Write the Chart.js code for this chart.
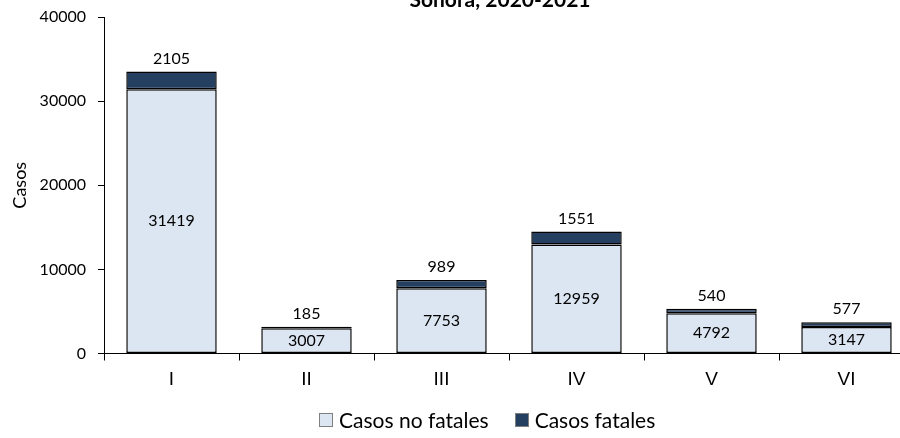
<!DOCTYPE html>
<html lang="es">
<head>
  <meta charset="UTF-8">
  <title>Casos por región - Sonora, 2020-2021</title>
  <script src="https://cdn.jsdelivr.net/npm/chart.js"></script>
  <style>
    html, body {
      margin: 0;
      padding: 0;
      background: #ffffff;
      overflow: hidden;
      width: 900px;
      height: 438px;
    }
    #wrap {
      position: relative;
      width: 915px;
      height: 438px;
    }
    #leyenda {
      position: absolute;
      top: 407px;
      left: 319px;
      display: flex;
      align-items: center;
      font-family: Lato, sans-serif;
      font-size: 21px;
      line-height: 26px;
      color: #000;
    }
    #leyenda span.item {
      display: flex;
      align-items: center;
      margin-right: 26px;
    }
    #leyenda span.caja {
      display: inline-block;
      width: 12px;
      height: 12px;
      border: 1px solid #7f7f7f;
      margin-right: 6px;
    }
  </style>
</head>
<body>
  <div id="wrap">
    <canvas id="graphique" width="915" height="438"></canvas>
    <div id="leyenda"></div>
  </div>

  <script>
    // Données
    const regiones = ["I", "II", "III", "IV", "V", "VI"];
    const noFatales = [31419, 3007, 7753, 12959, 4792, 3147];
    const fatales = [2105, 185, 989, 1551, 540, 577];
    const yTicks = [0, 10000, 20000, 30000, 40000];
    const titulo = "Sonora, 2020-2021";

    const colorClaro = "#dce6f2";
    const colorOscuro = "#243f60";

    // Étiquettes des valeurs
    const etiquettes = {
      id: "etiquettes",
      afterDatasetsDraw(chart) {
        const ctx = chart.ctx;
        ctx.save();
        ctx.font = "16px Lato, sans-serif";
        ctx.fillStyle = "#000";
        ctx.textAlign = "center";
        ctx.textBaseline = "middle";
        const m0 = chart.getDatasetMeta(0);
        const m1 = chart.getDatasetMeta(1);
        m0.data.forEach((bar, i) => {
          ctx.fillText(String(noFatales[i]), bar.x, (bar.y + bar.base) / 2);
        });
        m1.data.forEach((bar, i) => {
          ctx.fillText(String(fatales[i]), bar.x, bar.y - 13);
        });
        ctx.restore();
      }
    };

    // Titre (coupé en haut)
    const tituloPlugin = {
      id: "tituloPlugin",
      afterDraw(chart) {
        const ctx = chart.ctx;
        const a = chart.chartArea;
        ctx.save();
        ctx.font = "bold 21px Lato, sans-serif";
        ctx.fillStyle = "#000";
        ctx.textAlign = "center";
        ctx.textBaseline = "alphabetic";
        ctx.fillText(titulo, (a.left + a.right) / 2 - 9, 7);
        ctx.restore();
      }
    };

    const ctx = document.getElementById("graphique").getContext("2d");
    const chart = new Chart(ctx, {
      type: "bar",
      data: {
        labels: regiones,
        datasets: [
          {
            label: "Casos no fatales",
            data: noFatales,
            backgroundColor: colorClaro,
            borderColor: "#000",
            borderWidth: 1.5,
            borderSkipped: false,
            categoryPercentage: 1,
            barPercentage: 0.67
          },
          {
            label: "Casos fatales",
            data: fatales,
            backgroundColor: colorOscuro,
            borderColor: "#000",
            borderWidth: 1.5,
            borderSkipped: false,
            categoryPercentage: 1,
            barPercentage: 0.67
          }
        ]
      },
      options: {
        responsive: false,
        animation: false,
        layout: { padding: { top: 17, right: 1, bottom: 36.5, left: 0 } },
        plugins: {
          legend: { display: false },
          tooltip: { enabled: false }
        },
        scales: {
          x: {
            stacked: true,
            border: { color: "#000", width: 1 },
            grid: { drawOnChartArea: false, tickLength: 7, color: "#000", offset: true },
            ticks: { color: "#000", font: { family: "Liberation Sans", size: 19 }, padding: 8 },
            afterFit(scale) { scale.height = 48; }
          },
          y: {
            stacked: true,
            min: 0,
            max: 40000,
            border: { color: "#000", width: 1 },
            grid: { drawOnChartArea: false, tickLength: 6, color: "#000" },
            afterBuildTicks(scale) { scale.ticks = yTicks.map(v => ({ value: v })); },
            ticks: {
              color: "#000",
              font: { family: "Lato", size: 16, lineHeight: 0.5 },
              padding: 12,
              callback: v => String(v)
            },
            title: {
              display: true,
              text: "Casos",
              color: "#000",
              font: { family: "Lato", size: 18 },
              padding: { top: 9, bottom: 0 }
            },
            afterFit(scale) { scale.width = 104; }
          }
        }
      },
      plugins: [etiquettes, tituloPlugin]
    });

    // Légende HTML
    const leyenda = document.getElementById("leyenda");
    chart.data.datasets.forEach(ds => {
      const item = document.createElement("span");
      item.className = "item";
      const caja = document.createElement("span");
      caja.className = "caja";
      caja.style.background = ds.backgroundColor;
      item.appendChild(caja);
      item.appendChild(document.createTextNode(ds.label));
      leyenda.appendChild(item);
    });
  </script>
</body>
</html>
